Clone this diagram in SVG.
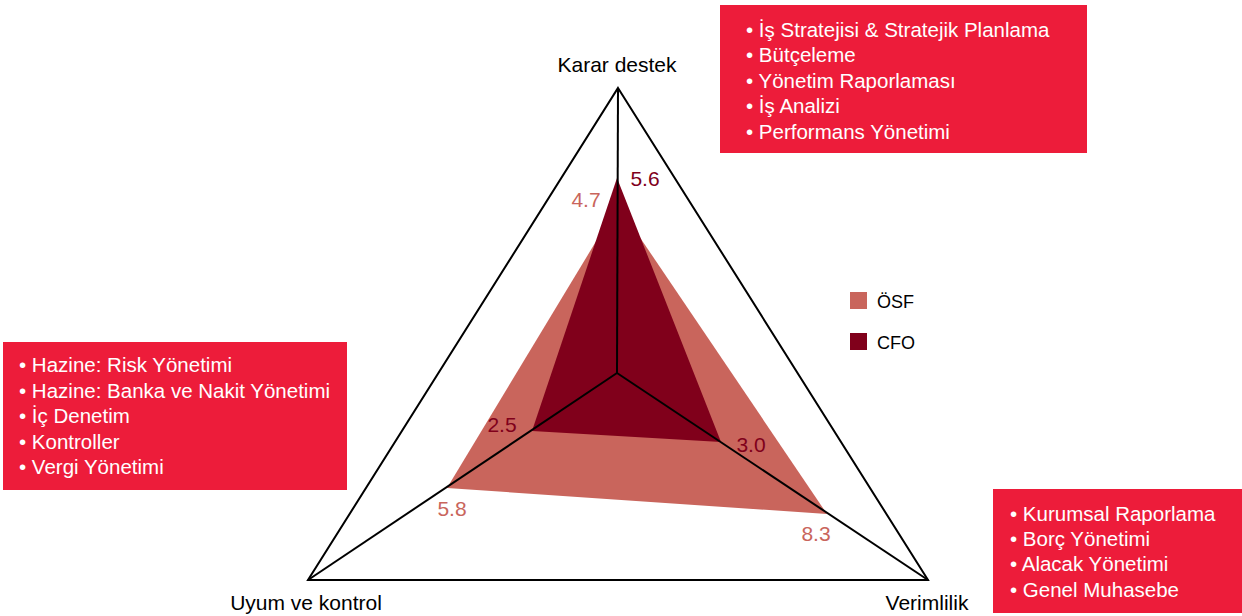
<svg xmlns="http://www.w3.org/2000/svg" width="1242" height="616" viewBox="0 0 1242 616">
<style>
.t{font-family:"Liberation Sans",Arial,sans-serif;}
.box{fill:#ed1c3a;}
.bt{font-family:"Liberation Sans",Arial,sans-serif;font-size:20.5px;fill:#fff;}
.ax{font-family:"Liberation Sans",Arial,sans-serif;font-size:21px;fill:#000;}
.vl{font-family:"Liberation Sans",Arial,sans-serif;font-size:21px;}
.osf{fill:#c9655c;}
.cfo{fill:#80001b;}
.ln{stroke:#000;stroke-width:2;fill:none;}
</style>
<rect width="1242" height="616" fill="#fff"/>
<g id="series">
<polygon id="osf-area" class="osf" points="618,205 827,514 447,488"/>
<polygon id="cfo-area" class="cfo" points="617,178 721,442 532,431"/>
</g>
<g id="connectors">
<polygon class="ln" points="618,88 928,580 308,580"/>
<line class="ln" x1="617" y1="373" x2="618" y2="88"/>
<line class="ln" x1="617" y1="373" x2="308" y2="580"/>
<line class="ln" x1="617" y1="373" x2="928" y2="580"/>
</g>
<g id="axis-labels">
<text class="ax" x="617" y="72" text-anchor="middle">Karar destek</text>
<text class="ax" x="306" y="610" text-anchor="middle">Uyum ve kontrol</text>
<text class="ax" x="927" y="610" text-anchor="middle">Verimlilik</text>
</g>
<g id="values">
<text class="vl" x="586" y="207" text-anchor="middle" fill="#c9655c">4.7</text>
<text class="vl" x="645" y="186" text-anchor="middle" fill="#80001b">5.6</text>
<text class="vl" x="502" y="432" text-anchor="middle" fill="#80001b">2.5</text>
<text class="vl" x="452" y="516" text-anchor="middle" fill="#c9655c">5.8</text>
<text class="vl" x="751" y="452" text-anchor="middle" fill="#80001b">3.0</text>
<text class="vl" x="816" y="541" text-anchor="middle" fill="#c9655c">8.3</text>
</g>
<g id="legend">
<rect class="osf" x="850" y="292" width="17" height="17"/>
<text class="t" x="877" y="308" font-size="18">ÖSF</text>
<rect class="cfo" x="850" y="333" width="17" height="17"/>
<text class="t" x="877" y="349" font-size="18">CFO</text>
</g>
<g id="box-karar">
<rect class="box" x="720" y="5" width="367" height="148"/>
<text class="bt" x="746" y="37">• İş Stratejisi &amp; Stratejik Planlama</text>
<text class="bt" x="746" y="62">• Bütçeleme</text>
<text class="bt" x="746" y="88">• Yönetim Raporlaması</text>
<text class="bt" x="746" y="113">• İş Analizi</text>
<text class="bt" x="746" y="139">• Performans Yönetimi</text>
</g>
<g id="box-uyum">
<rect class="box" x="3" y="342" width="344" height="148"/>
<text class="bt" x="19" y="372">• Hazine: Risk Yönetimi</text>
<text class="bt" x="19" y="398">• Hazine: Banka ve Nakit Yönetimi</text>
<text class="bt" x="19" y="423">• İç Denetim</text>
<text class="bt" x="19" y="449">• Kontroller</text>
<text class="bt" x="19" y="474">• Vergi Yönetimi</text>
</g>
<g id="box-verimlilik">
<rect class="box" x="993" y="489" width="249" height="124"/>
<text class="bt" x="1010" y="521">• Kurumsal Raporlama</text>
<text class="bt" x="1010" y="546">• Borç Yönetimi</text>
<text class="bt" x="1010" y="571">• Alacak Yönetimi</text>
<text class="bt" x="1010" y="597">• Genel Muhasebe</text>
</g>
</svg>
